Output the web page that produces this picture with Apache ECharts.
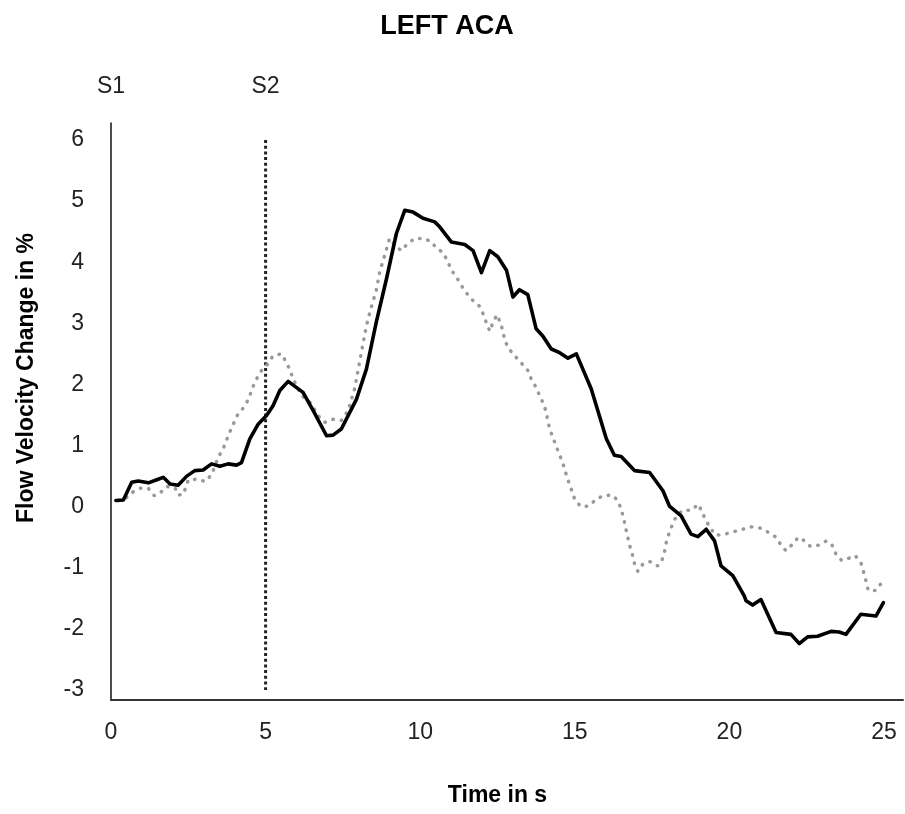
<!DOCTYPE html>
<html>
<head>
<meta charset="utf-8">
<script src="https://cdn.jsdelivr.net/npm/echarts@6/dist/echarts.min.js"></script>
<style>html,body{margin:0;padding:0;background:#fff}#c{width:905px;height:814px}</style>
</head>
<body>
<div id="c"></div>
<script>
// ---- data ----
const chartTitle = 'LEFT ACA';
const xName = 'Time in s';
const yName = 'Flow Velocity Change in %';
const xTicks = [0, 5, 10, 15, 20, 25];
const yTicks = [-3, -2, -1, 0, 1, 2, 3, 4, 5, 6];
const markerTimes = [0, 5];
const markerLabels = ['S1', 'S2'];
const s2Line = [[5, 6], [5, -3]];

const solidTime = [0.16,0.40,0.67,0.88,1.21,1.48,1.69,1.91,2.17,2.45,2.71,2.98,3.25,3.52,3.79,4.06,4.22,4.49,4.76,5.03,5.24,5.46,5.73,6.21,6.54,6.97,7.18,7.45,7.94,8.26,8.58,8.91,9.23,9.50,9.77,10.09,10.47,10.63,11.01,11.44,11.71,11.98,12.25,12.51,12.79,13.00,13.21,13.48,13.75,13.97,14.24,14.51,14.78,15.05,15.53,16.02,16.28,16.50,16.93,17.42,17.85,18.06,18.44,18.76,18.98,19.25,19.52,19.73,20.11,20.48,20.54,20.75,21.02,21.51,21.99,22.26,22.53,22.85,23.29,23.55,23.77,24.25,24.74,24.98];
const solidValue = [0.10,0.11,0.40,0.42,0.39,0.44,0.48,0.37,0.35,0.50,0.59,0.60,0.70,0.66,0.70,0.68,0.72,1.11,1.35,1.49,1.65,1.90,2.05,1.87,1.57,1.16,1.17,1.27,1.76,2.25,3.02,3.73,4.47,4.85,4.82,4.72,4.66,4.58,4.33,4.29,4.19,3.83,4.19,4.09,3.87,3.43,3.55,3.47,2.91,2.79,2.58,2.52,2.43,2.50,1.93,1.11,0.84,0.82,0.59,0.56,0.26,0.01,-0.15,-0.45,-0.49,-0.37,-0.56,-0.97,-1.13,-1.46,-1.54,-1.61,-1.52,-2.06,-2.09,-2.24,-2.13,-2.12,-2.04,-2.05,-2.09,-1.76,-1.79,-1.57];

const dottedTime = [0.24,0.51,0.67,0.94,1.21,1.40,1.58,1.80,2.07,2.17,2.34,2.50,2.82,3.04,3.25,3.47,3.63,3.84,4.08,4.27,4.44,4.65,4.87,5.08,5.24,5.52,5.78,5.89,6.16,6.43,6.70,6.91,7.18,7.45,7.67,7.88,7.99,8.10,8.26,8.42,8.58,8.69,8.85,9.01,9.18,9.39,9.55,9.82,10.09,10.36,10.52,10.74,10.90,11.01,11.17,11.33,11.49,11.71,11.92,12.03,12.14,12.25,12.35,12.48,12.62,12.68,12.76,12.89,13.09,13.27,13.48,13.59,13.75,13.86,13.99,14.08,14.13,14.21,14.31,14.42,14.53,14.64,14.72,14.81,14.92,15.01,15.21,15.45,15.67,15.91,16.21,16.39,16.50,16.58,16.64,16.71,16.77,16.86,16.93,17.04,17.20,17.44,17.68,17.81,17.90,17.95,18.04,18.15,18.28,18.49,18.76,19.00,19.12,19.25,19.38,19.57,19.86,20.13,20.43,20.72,20.99,21.26,21.51,21.67,21.83,22.03,22.23,22.40,22.62,22.88,23.14,23.32,23.45,23.63,23.88,24.07,24.26,24.34,24.42,24.49,24.74,24.93];
const dottedValue = [0.10,0.15,0.23,0.30,0.30,0.18,0.22,0.33,0.31,0.19,0.20,0.44,0.45,0.41,0.52,0.81,0.95,1.22,1.49,1.61,1.75,2.04,2.23,2.34,2.47,2.50,2.25,2.09,1.82,1.71,1.49,1.38,1.43,1.41,1.57,1.93,2.23,2.53,2.96,3.27,3.54,3.84,4.11,4.39,4.28,4.19,4.28,4.39,4.39,4.34,4.23,4.16,4.00,3.87,3.76,3.62,3.50,3.37,3.28,3.16,3.01,2.87,3.01,3.14,2.98,2.84,2.69,2.57,2.45,2.35,2.23,2.09,1.95,1.82,1.68,1.54,1.39,1.24,1.11,0.96,0.82,0.67,0.53,0.39,0.24,0.10,0.00,0.01,0.11,0.18,0.19,0.10,-0.04,-0.19,-0.34,-0.49,-0.63,-0.78,-0.93,-1.06,-0.94,-0.90,-0.97,-0.89,-0.74,-0.60,-0.45,-0.30,-0.16,-0.06,-0.06,0.04,-0.10,-0.23,-0.35,-0.47,-0.45,-0.41,-0.37,-0.33,-0.35,-0.42,-0.50,-0.63,-0.72,-0.62,-0.50,-0.55,-0.65,-0.63,-0.56,-0.63,-0.78,-0.88,-0.84,-0.80,-0.93,-1.07,-1.22,-1.37,-1.37,-1.24];

// ---- chart ----
const FONT = "'Liberation Sans Narrow', 'Liberation Sans', sans-serif";
const pair = (xs, ys) => xs.map((x, i) => [x, ys[i]]);
const chart = echarts.init(document.getElementById('c'), null, {renderer: 'canvas'});
const labelStyle = {color: '#222', fontSize: 23, fontFamily: FONT};

chart.setOption({
  animation: false,
  backgroundColor: '#fff',
  title: {
    text: chartTitle, left: 442, top: 8, textAlign: 'center',
    textStyle: {fontSize: 27, fontWeight: 'bold', color: '#000', fontFamily: FONT}
  },
  grid: [
    {left: 111, right: 21, top: 140, bottom: 124, containLabel: false},
    {left: 111, right: 2, top: 123, bottom: 114, containLabel: false}
  ],
  xAxis: [
    {
      type: 'value', gridIndex: 0, min: xTicks[0], max: xTicks[xTicks.length - 1], interval: 5,
      axisLine: {show: false}, axisTick: {show: false}, splitLine: {show: false},
      axisLabel: Object.assign({margin: 31}, labelStyle),
      name: xName, nameLocation: 'middle', nameGap: 94,
      nameTextStyle: {fontSize: 23, fontWeight: 'bold', color: '#000', fontFamily: FONT}
    },
    {
      type: 'value', gridIndex: 0, position: 'top', min: xTicks[0], max: xTicks[xTicks.length - 1], interval: 5,
      axisLine: {show: false}, axisTick: {show: false}, splitLine: {show: false},
      axisLabel: Object.assign({margin: 42, formatter: v => {
        const i = markerTimes.indexOf(v); return i >= 0 ? markerLabels[i] : '';
      }}, labelStyle)
    },
    {
      type: 'value', gridIndex: 1, min: 0, max: 1,
      axisLine: {show: true, lineStyle: {color: '#333', width: 2}},
      axisTick: {show: false}, axisLabel: {show: false}, splitLine: {show: false}
    }
  ],
  yAxis: [
    {
      type: 'value', gridIndex: 0, min: yTicks[0], max: yTicks[yTicks.length - 1], interval: 1,
      axisLine: {show: false}, axisTick: {show: false}, splitLine: {show: false},
      axisLabel: Object.assign({margin: 27}, labelStyle)
    },
    {
      type: 'value', gridIndex: 1, min: 0, max: 1,
      axisLine: {show: true, lineStyle: {color: '#111', width: 1.5}},
      axisTick: {show: false}, axisLabel: {show: false}, splitLine: {show: false}
    }
  ],
  graphic: [{
    type: 'text', x: 27, y: 378, rotation: Math.PI / 2,
    style: {text: yName, fontSize: 23, fontWeight: 'bold', fill: '#000', fontFamily: FONT,
            align: 'center', verticalAlign: 'middle'}
  }],
  series: [
    {
      type: 'line', xAxisIndex: 0, yAxisIndex: 0, data: s2Line, symbol: 'none',
      lineStyle: {color: '#222', width: 3, type: [3, 2.7]}, z: 1
    },
    {
      type: 'line', xAxisIndex: 0, yAxisIndex: 0, data: pair(dottedTime, dottedValue), symbol: 'none',
      lineStyle: {color: '#999', width: 3.5, type: [0.5, 8], cap: 'round'}, z: 2
    },
    {
      type: 'line', xAxisIndex: 0, yAxisIndex: 0, data: pair(solidTime, solidValue), symbol: 'none',
      lineStyle: {color: '#000', width: 3.6, join: 'round', cap: 'round'}, z: 3
    }
  ]
});
</script>
</body>
</html>
